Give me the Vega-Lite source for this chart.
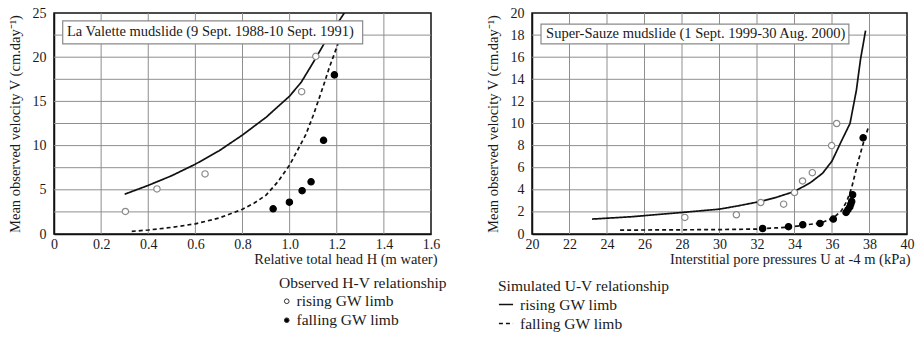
{
  "$schema": "https://vega.github.io/schema/vega-lite/v6.json",
  "background": "white",
  "padding": {"left": 6, "top": 5, "right": 0, "bottom": 0},
  "spacing": 101,
  "bounds": "flush",
  "config": {
    "font": "Liberation Serif",
    "view": {"stroke": "#111", "strokeWidth": 1.5},
    "axis": {
      "labelFont": "Liberation Serif", "titleFont": "Liberation Serif",
      "labelFontSize": 14, "titleFontSize": 14.5, "titleFontWeight": "normal",
      "labelColor": "#1a1a1a", "titleColor": "#1a1a1a",
      "grid": false, "domainColor": "#111", "domainWidth": 1.5,
      "tickSize": 0, "tickOpacity": 0, "labelOverlap": false, "labelFlush": false, "labelBound": false
    },
    "legend": {
      "labelFont": "Liberation Serif", "titleFont": "Liberation Serif",
      "labelFontSize": 15.5, "titleFontSize": 15.5, "titleFontWeight": "normal",
      "labelColor": "#1a1a1a", "titleColor": "#1a1a1a", "rowPadding": 2, "titlePadding": 2,
      "titleLimit": 400, "labelLimit": 400
    }
  },
  "datasets": {
    "valette": [
      {"kind": "simulated", "curve": "rising GW limb", "H": 0.30, "V": 4.5},
      {"kind": "simulated", "curve": "rising GW limb", "H": 0.40, "V": 5.5},
      {"kind": "simulated", "curve": "rising GW limb", "H": 0.50, "V": 6.6},
      {"kind": "simulated", "curve": "rising GW limb", "H": 0.60, "V": 7.9},
      {"kind": "simulated", "curve": "rising GW limb", "H": 0.70, "V": 9.4},
      {"kind": "simulated", "curve": "rising GW limb", "H": 0.80, "V": 11.2},
      {"kind": "simulated", "curve": "rising GW limb", "H": 0.90, "V": 13.2},
      {"kind": "simulated", "curve": "rising GW limb", "H": 1.00, "V": 15.6},
      {"kind": "simulated", "curve": "rising GW limb", "H": 1.05, "V": 17.2},
      {"kind": "simulated", "curve": "rising GW limb", "H": 1.10, "V": 19.4},
      {"kind": "simulated", "curve": "rising GW limb", "H": 1.15, "V": 21.7},
      {"kind": "simulated", "curve": "rising GW limb", "H": 1.20, "V": 23.7},
      {"kind": "simulated", "curve": "rising GW limb", "H": 1.232, "V": 25.0},
      {"kind": "simulated", "curve": "falling GW limb", "H": 0.33, "V": 0.3},
      {"kind": "simulated", "curve": "falling GW limb", "H": 0.40, "V": 0.45},
      {"kind": "simulated", "curve": "falling GW limb", "H": 0.50, "V": 0.75},
      {"kind": "simulated", "curve": "falling GW limb", "H": 0.60, "V": 1.15},
      {"kind": "simulated", "curve": "falling GW limb", "H": 0.70, "V": 1.8},
      {"kind": "simulated", "curve": "falling GW limb", "H": 0.80, "V": 2.8},
      {"kind": "simulated", "curve": "falling GW limb", "H": 0.85, "V": 3.5},
      {"kind": "simulated", "curve": "falling GW limb", "H": 0.90, "V": 4.4},
      {"kind": "simulated", "curve": "falling GW limb", "H": 0.95, "V": 5.9},
      {"kind": "simulated", "curve": "falling GW limb", "H": 1.00, "V": 7.8},
      {"kind": "simulated", "curve": "falling GW limb", "H": 1.034, "V": 9.5},
      {"kind": "simulated", "curve": "falling GW limb", "H": 1.068, "V": 11.2},
      {"kind": "simulated", "curve": "falling GW limb", "H": 1.10, "V": 13.4},
      {"kind": "simulated", "curve": "falling GW limb", "H": 1.126, "V": 15.4},
      {"kind": "simulated", "curve": "falling GW limb", "H": 1.15, "V": 17.3},
      {"kind": "simulated", "curve": "falling GW limb", "H": 1.168, "V": 18.8},
      {"kind": "simulated", "curve": "falling GW limb", "H": 1.19, "V": 20.4},
      {"kind": "simulated", "curve": "falling GW limb", "H": 1.205, "V": 21.5},
      {"kind": "observed", "limb": "rising GW limb", "H": 0.303, "V": 2.55},
      {"kind": "observed", "limb": "rising GW limb", "H": 0.437, "V": 5.1},
      {"kind": "observed", "limb": "rising GW limb", "H": 0.641, "V": 6.8},
      {"kind": "observed", "limb": "rising GW limb", "H": 1.051, "V": 16.1},
      {"kind": "observed", "limb": "rising GW limb", "H": 1.111, "V": 20.1},
      {"kind": "observed", "limb": "falling GW limb", "H": 0.93, "V": 2.85},
      {"kind": "observed", "limb": "falling GW limb", "H": 0.999, "V": 3.6},
      {"kind": "observed", "limb": "falling GW limb", "H": 1.053, "V": 4.9},
      {"kind": "observed", "limb": "falling GW limb", "H": 1.091, "V": 5.9},
      {"kind": "observed", "limb": "falling GW limb", "H": 1.144, "V": 10.6},
      {"kind": "observed", "limb": "falling GW limb", "H": 1.19, "V": 18.0}
    ],
    "valette_grid_h": [{"H": 0.2}, {"H": 0.4}, {"H": 0.6}, {"H": 0.8}, {"H": 1.0}, {"H": 1.2}, {"H": 1.4}],
    "valette_grid_v": [{"V": 2.5}, {"V": 5}, {"V": 7.5}, {"V": 10}, {"V": 12.5}, {"V": 15}, {"V": 17.5}, {"V": 20}, {"V": 22.5}],
    "sauze": [
      {"kind": "simulated", "curve": "rising GW limb", "U": 23.2, "V": 1.35},
      {"kind": "simulated", "curve": "rising GW limb", "U": 25.3, "V": 1.56},
      {"kind": "simulated", "curve": "rising GW limb", "U": 28.0, "V": 1.95},
      {"kind": "simulated", "curve": "rising GW limb", "U": 30.0, "V": 2.25},
      {"kind": "simulated", "curve": "rising GW limb", "U": 31.0, "V": 2.55},
      {"kind": "simulated", "curve": "rising GW limb", "U": 32.2, "V": 2.95},
      {"kind": "simulated", "curve": "rising GW limb", "U": 33.0, "V": 3.3},
      {"kind": "simulated", "curve": "rising GW limb", "U": 34.0, "V": 3.85},
      {"kind": "simulated", "curve": "rising GW limb", "U": 34.85, "V": 4.65},
      {"kind": "simulated", "curve": "rising GW limb", "U": 35.5, "V": 5.5},
      {"kind": "simulated", "curve": "rising GW limb", "U": 36.0, "V": 6.6},
      {"kind": "simulated", "curve": "rising GW limb", "U": 36.5, "V": 8.4},
      {"kind": "simulated", "curve": "rising GW limb", "U": 36.96, "V": 10.0},
      {"kind": "simulated", "curve": "rising GW limb", "U": 37.3, "V": 13.0},
      {"kind": "simulated", "curve": "rising GW limb", "U": 37.52, "V": 15.8},
      {"kind": "simulated", "curve": "rising GW limb", "U": 37.79, "V": 18.4},
      {"kind": "simulated", "curve": "falling GW limb", "U": 24.7, "V": 0.35},
      {"kind": "simulated", "curve": "falling GW limb", "U": 28.0, "V": 0.38},
      {"kind": "simulated", "curve": "falling GW limb", "U": 30.0, "V": 0.4},
      {"kind": "simulated", "curve": "falling GW limb", "U": 32.0, "V": 0.45},
      {"kind": "simulated", "curve": "falling GW limb", "U": 33.0, "V": 0.55},
      {"kind": "simulated", "curve": "falling GW limb", "U": 33.7, "V": 0.62},
      {"kind": "simulated", "curve": "falling GW limb", "U": 34.5, "V": 0.8},
      {"kind": "simulated", "curve": "falling GW limb", "U": 35.4, "V": 1.0},
      {"kind": "simulated", "curve": "falling GW limb", "U": 36.07, "V": 1.45},
      {"kind": "simulated", "curve": "falling GW limb", "U": 36.5, "V": 2.1},
      {"kind": "simulated", "curve": "falling GW limb", "U": 36.8, "V": 3.0},
      {"kind": "simulated", "curve": "falling GW limb", "U": 37.05, "V": 4.2},
      {"kind": "simulated", "curve": "falling GW limb", "U": 37.4, "V": 6.6},
      {"kind": "simulated", "curve": "falling GW limb", "U": 37.7, "V": 8.4},
      {"kind": "simulated", "curve": "falling GW limb", "U": 37.95, "V": 9.7},
      {"kind": "observed", "limb": "rising GW limb", "U": 28.15, "V": 1.5},
      {"kind": "observed", "limb": "rising GW limb", "U": 30.9, "V": 1.74},
      {"kind": "observed", "limb": "rising GW limb", "U": 32.2, "V": 2.85},
      {"kind": "observed", "limb": "rising GW limb", "U": 33.42, "V": 2.7},
      {"kind": "observed", "limb": "rising GW limb", "U": 34.0, "V": 3.75},
      {"kind": "observed", "limb": "rising GW limb", "U": 34.43, "V": 4.8},
      {"kind": "observed", "limb": "rising GW limb", "U": 34.95, "V": 5.55},
      {"kind": "observed", "limb": "rising GW limb", "U": 35.98, "V": 8.0},
      {"kind": "observed", "limb": "rising GW limb", "U": 36.25, "V": 10.0},
      {"kind": "observed", "limb": "falling GW limb", "U": 32.3, "V": 0.5},
      {"kind": "observed", "limb": "falling GW limb", "U": 33.68, "V": 0.66},
      {"kind": "observed", "limb": "falling GW limb", "U": 34.44, "V": 0.84},
      {"kind": "observed", "limb": "falling GW limb", "U": 35.36, "V": 0.96},
      {"kind": "observed", "limb": "falling GW limb", "U": 36.07, "V": 1.35},
      {"kind": "observed", "limb": "falling GW limb", "U": 36.75, "V": 1.95},
      {"kind": "observed", "limb": "falling GW limb", "U": 36.85, "V": 2.2},
      {"kind": "observed", "limb": "falling GW limb", "U": 36.95, "V": 2.45},
      {"kind": "observed", "limb": "falling GW limb", "U": 37.0, "V": 2.7},
      {"kind": "observed", "limb": "falling GW limb", "U": 37.05, "V": 2.95},
      {"kind": "observed", "limb": "falling GW limb", "U": 37.1, "V": 3.55},
      {"kind": "observed", "limb": "falling GW limb", "U": 37.66, "V": 8.7}
    ],
    "sauze_grid_u": [{"U": 22}, {"U": 24}, {"U": 26}, {"U": 28}, {"U": 30}, {"U": 32}, {"U": 34}, {"U": 36}, {"U": 38}],
    "sauze_grid_v": [{"V": 2}, {"V": 4}, {"V": 6}, {"V": 8}, {"V": 10}, {"V": 12}, {"V": 14}, {"V": 16}, {"V": 18}],
    "boxes": [
      {"panel": "valette", "label": "La Valette mudslide (9 Sept. 1988-10 Sept. 1991)"},
      {"panel": "sauze", "label": "Super-Sauze mudslide (1 Sept. 1999-30 Aug. 2000)"}
    ]
  },
  "resolve": {
    "scale": {"fill": "independent", "strokeDash": "independent"},
    "legend": {"fill": "independent", "strokeDash": "independent"}
  },
  "hconcat": [
    {
      "width": 377,
      "height": 221,
      "resolve": {"axis": {"x": "independent", "y": "independent"}},
      "layer": [
        {
          "data": {"name": "valette_grid_h"},
          "mark": {"type": "rule", "color": "#8f8f8f", "strokeWidth": 1},
          "encoding": {
            "x": {"field": "H", "type": "quantitative", "scale": {"domain": [0, 1.6], "nice": false}, "axis": null}
          }
        },
        {
          "data": {"name": "valette_grid_v"},
          "mark": {"type": "rule", "color": "#8f8f8f", "strokeWidth": 1},
          "encoding": {
            "y": {"field": "V", "type": "quantitative", "scale": {"domain": [0, 25], "nice": false}, "axis": null}
          }
        },
        {
          "data": {"name": "valette"},
          "transform": [{"filter": "datum.kind == 'simulated'"}],
          "mark": {"type": "line", "color": "#111", "strokeWidth": 1.7, "clip": true},
          "encoding": {
            "x": {"field": "H", "type": "quantitative", "scale": {"domain": [0, 1.6], "nice": false},
              "axis": {"title": "Relative total head  H (m water)", "grid": false, "labelOverlap": false,
                "values": [0, 0.2, 0.4, 0.6, 0.8, 1.0, 1.2, 1.4, 1.6],
                "labelExpr": "datum.value == 0 ? '0' : format(datum.value, '.1f')",
                "labelPadding": 3, "titlePadding": 1, "titleX": 383, "titleAlign": "right"}},
            "y": {"field": "V", "type": "quantitative", "scale": {"domain": [0, 25], "nice": false},
              "axis": {"title": "Mean observed velocity V (cm.day⁻¹)", "grid": false, "labelOverlap": false,
                "values": [0, 2.5, 5, 7.5, 10, 12.5, 15, 17.5, 20, 22.5, 25],
                "labelExpr": "datum.value % 5 == 0 ? datum.label : ''",
                "labelPadding": 8, "titlePadding": 10}},
            "strokeDash": {"field": "curve", "type": "nominal", "sort": "descending",
              "scale": {"range": [[1, 0], [4, 3]]},
              "legend": null}
          }
        },
        {
          "data": {"name": "valette"},
          "transform": [{"filter": "datum.kind == 'observed'"}],
          "mark": {"type": "point", "filled": true, "size": 40, "strokeWidth": 1.2, "opacity": 1},
          "encoding": {
            "x": {"field": "H", "type": "quantitative", "scale": {"domain": [0, 1.6], "nice": false}, "axis": null},
            "y": {"field": "V", "type": "quantitative", "scale": {"domain": [0, 25], "nice": false}, "axis": null},
            "fill": {"field": "limb", "type": "nominal",
              "scale": {"domain": ["rising GW limb", "falling GW limb"], "range": ["white", "black"]},
              "legend": null},
            "stroke": {"condition": {"test": "datum.limb == 'rising GW limb'", "value": "#8a8a8a"}, "value": "#000"}
          }
        },
        {
          "data": {"name": "boxes"},
          "transform": [{"filter": "datum.panel == 'valette'"}],
          "mark": {"type": "rect", "fill": "white", "stroke": "#8a8a8a", "strokeWidth": 1.2},
          "encoding": {
            "x": {"datum": 0.037, "type": "quantitative", "scale": {"domain": [0, 1.6], "nice": false}, "axis": null},
            "x2": {"datum": 1.31},
            "y": {"datum": 24.1, "type": "quantitative", "scale": {"domain": [0, 25], "nice": false}, "axis": null},
            "y2": {"datum": 21.5}
          }
        },
        {
          "data": {"name": "boxes"},
          "transform": [{"filter": "datum.panel == 'valette'"}],
          "mark": {"type": "text", "align": "left", "baseline": "middle", "font": "Liberation Serif", "fontSize": 14.5, "color": "#1a1a1a"},
          "encoding": {
            "x": {"datum": 0.055, "type": "quantitative", "scale": {"domain": [0, 1.6], "nice": false}, "axis": null},
            "y": {"datum": 22.83, "type": "quantitative", "scale": {"domain": [0, 25], "nice": false}, "axis": null},
            "text": {"field": "label"}
          }
        }
      ]
    },
    {
      "width": 375,
      "height": 221,
      "resolve": {"axis": {"x": "independent", "y": "independent"}},
      "layer": [
        {
          "data": {"name": "sauze_grid_u"},
          "mark": {"type": "rule", "color": "#8f8f8f", "strokeWidth": 1},
          "encoding": {
            "x": {"field": "U", "type": "quantitative", "scale": {"domain": [20, 40], "nice": false, "zero": false}, "axis": null}
          }
        },
        {
          "data": {"name": "sauze_grid_v"},
          "mark": {"type": "rule", "color": "#8f8f8f", "strokeWidth": 1},
          "encoding": {
            "y": {"field": "V", "type": "quantitative", "scale": {"domain": [0, 20], "nice": false}, "axis": null}
          }
        },
        {
          "data": {"name": "sauze"},
          "transform": [{"filter": "datum.kind == 'simulated'"}],
          "mark": {"type": "line", "color": "#111", "strokeWidth": 1.7, "clip": true},
          "encoding": {
            "x": {"field": "U", "type": "quantitative", "scale": {"domain": [20, 40], "nice": false, "zero": false},
              "axis": {"title": "Interstitial pore pressures U at -4 m (kPa)", "grid": false, "labelOverlap": false,
                "values": [20, 22, 24, 26, 28, 30, 32, 34, 36, 38, 40],
                "labelPadding": 3, "titlePadding": 1, "titleX": 378, "titleAlign": "right"}},
            "y": {"field": "V", "type": "quantitative", "scale": {"domain": [0, 20], "nice": false},
              "axis": {"title": "Mean observed velocity V (cm.day⁻¹)", "grid": false, "labelOverlap": false,
                "values": [0, 2, 4, 6, 8, 10, 12, 14, 16, 18, 20],
                "labelPadding": 8, "titlePadding": 10}},
            "strokeDash": {"field": "curve", "type": "nominal", "sort": "descending",
              "scale": {"range": [[1, 0], [4, 3]]},
              "legend": {"title": "Simulated U-V relationship", "orient": "none", "legendX": -34, "legendY": 266,
                "symbolType": "stroke", "symbolSize": 200, "symbolStrokeWidth": 1.5, "symbolStrokeColor": "#111", "labelOffset": 6}}
          }
        },
        {
          "data": {"name": "sauze"},
          "transform": [{"filter": "datum.kind == 'observed'"}],
          "mark": {"type": "point", "filled": true, "size": 40, "strokeWidth": 1.2, "opacity": 1},
          "encoding": {
            "x": {"field": "U", "type": "quantitative", "scale": {"domain": [20, 40], "nice": false, "zero": false}, "axis": null},
            "y": {"field": "V", "type": "quantitative", "scale": {"domain": [0, 20], "nice": false}, "axis": null},
            "fill": {"field": "limb", "type": "nominal",
              "scale": {"domain": ["rising GW limb", "falling GW limb"], "range": ["white", "black"]},
              "legend": {"title": "Observed H-V relationship", "orient": "none", "legendX": -253, "legendY": 263,
                "symbolType": "circle", "symbolSize": 22, "symbolStrokeWidth": 1, "symbolStrokeColor": "#333", "labelOffset": 2}},
            "stroke": {"condition": {"test": "datum.limb == 'rising GW limb'", "value": "#8a8a8a"}, "value": "#000"}
          }
        },
        {
          "data": {"name": "boxes"},
          "transform": [{"filter": "datum.panel == 'sauze'"}],
          "mark": {"type": "rect", "fill": "white", "stroke": "#8a8a8a", "strokeWidth": 1.2},
          "encoding": {
            "x": {"datum": 20.48, "type": "quantitative", "scale": {"domain": [20, 40], "nice": false, "zero": false}, "axis": null},
            "x2": {"datum": 36.9},
            "y": {"datum": 19.0, "type": "quantitative", "scale": {"domain": [0, 20], "nice": false}, "axis": null},
            "y2": {"datum": 17.2}
          }
        },
        {
          "data": {"name": "boxes"},
          "transform": [{"filter": "datum.panel == 'sauze'"}],
          "mark": {"type": "text", "align": "left", "baseline": "middle", "font": "Liberation Serif", "fontSize": 14.5, "color": "#1a1a1a"},
          "encoding": {
            "x": {"datum": 20.75, "type": "quantitative", "scale": {"domain": [20, 40], "nice": false, "zero": false}, "axis": null},
            "y": {"datum": 18.13, "type": "quantitative", "scale": {"domain": [0, 20], "nice": false}, "axis": null},
            "text": {"field": "label"}
          }
        }
      ]
    }
  ]
}
